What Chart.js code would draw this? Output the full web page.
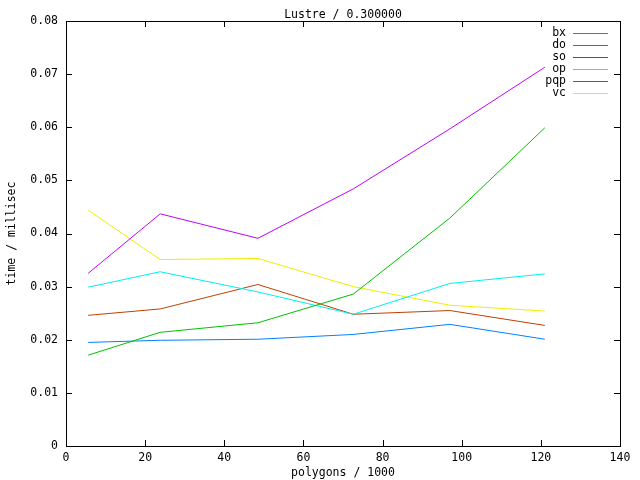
<!DOCTYPE html>
<html><head><meta charset="utf-8">
<script src="https://cdn.jsdelivr.net/npm/chart.js@4"></script>
<style>html,body{margin:0;padding:0;background:#fff}#wrap{width:640px;height:480px}</style>
</head><body><div id="wrap"><canvas id="c" width="640" height="480"></canvas></div>
<script>
const polygons = [5.6, 23.8, 48.5, 72.6, 97, 121];
const bx  = [0.0171, 0.0214, 0.0232, 0.0286, 0.0429, 0.0599];
const dO  = [0.0195, 0.0199, 0.0201, 0.0210, 0.0229, 0.0201];
const so  = [0.0325, 0.0437, 0.0391, 0.0484, 0.0597, 0.0713];
const op  = [0.0299, 0.0328, 0.0290, 0.0248, 0.0306, 0.0324];
const pqp = [0.0246, 0.0258, 0.0304, 0.0248, 0.0255, 0.0227];
const vc  = [0.0444, 0.0351, 0.0353, 0.0300, 0.0265, 0.0254];
const seriesNames = ['bx','do','so','op','pqp','vc'];
const seriesData = [bx, dO, so, op, pqp, vc];
const colors = ['#00c000','#0080ff','#c000ff','#00eeee','#c04000','#eeee00'];
const title = 'Lustre / 0.300000';
const xTitle = 'polygons / 1000';
const yTitle = 'time / millisec';
const FONT = '11.5px "DejaVu Sans Mono"';

const datasets = seriesNames.map((n,i)=>({
  label: n,
  data: polygons.map((x,j)=>({x:x, y:seriesData[i][j]})),
  borderColor: colors[i], backgroundColor: colors[i],
  borderWidth: 1, pointRadius: 0, tension: 0, fill: false
}));

const deco = {
  id:'deco',
  afterDraw(chart){
    const ctx = chart.ctx, a = chart.chartArea;
    const xs = chart.scales.x, ys = chart.scales.y;
    ctx.save();
    ctx.setLineDash([]);
    ctx.strokeStyle = '#000'; ctx.lineWidth = 1;
    ctx.strokeRect(Math.round(a.left)+0.5, Math.round(a.top)+0.5, Math.round(a.right-a.left), Math.round(a.bottom-a.top));
    ctx.beginPath();
    xs.ticks.forEach(t=>{
      const px = Math.round(xs.getPixelForValue(t.value))+0.5;
      ctx.moveTo(px, a.bottom); ctx.lineTo(px, a.bottom-6);
      ctx.moveTo(px, a.top); ctx.lineTo(px, a.top+6);
    });
    ys.ticks.forEach(t=>{
      const py = Math.round(ys.getPixelForValue(t.value))+0.5;
      ctx.moveTo(a.left, py); ctx.lineTo(a.left+6, py);
      ctx.moveTo(a.right, py); ctx.lineTo(a.right-6, py);
    });
    ctx.stroke();
    ctx.fillStyle = '#000'; ctx.font = FONT;
    ctx.textAlign = 'center'; ctx.textBaseline = 'middle';
    const cx = (a.left+a.right)/2;
    ctx.fillText(title, cx, 15);
    ctx.fillText(xTitle, cx, 473);
    ctx.save();
    ctx.translate(12, (a.top+a.bottom)/2);
    ctx.rotate(-Math.PI/2);
    ctx.fillText(yTitle, 0, 0);
    ctx.restore();
    // legend
    ctx.textAlign = 'right';
    seriesNames.forEach((n,i)=>{
      const y = 33 + i*12;
      ctx.fillStyle = '#000';
      ctx.fillText(n, 566, y);
      ctx.fillStyle = colors[i];
      ctx.fillRect(573, Math.round(y), 35, 1);
    });
    ctx.restore();
  }
};

new Chart(document.getElementById('c'), {
  type:'line',
  data:{datasets},
  options:{
    responsive:false, animation:false,
    layout:{padding:{top:21, right:20, left:0, bottom:0}},
    plugins:{legend:{display:false}, tooltip:{enabled:false}, title:{display:false}},
    scales:{
      x:{type:'linear', min:0, max:140,
        ticks:{stepSize:20, color:'#000', font:{family:'DejaVu Sans Mono', size:11.5}, padding:5, maxRotation:0},
        grid:{display:false, drawTicks:false}, border:{display:false},
        afterFit(s){ s.height = 34; }
      },
      y:{type:'linear', min:0, max:0.08,
        ticks:{stepSize:0.01, color:'#000', font:{family:'DejaVu Sans Mono', size:11.5}, padding:8,
          callback:(v)=> v===0 ? '0' : v.toFixed(2)},
        grid:{display:false, drawTicks:false}, border:{display:false},
        afterFit(s){ s.width = 66; }
      }
    }
  },
  plugins:[deco]
});
</script>
</body></html>
